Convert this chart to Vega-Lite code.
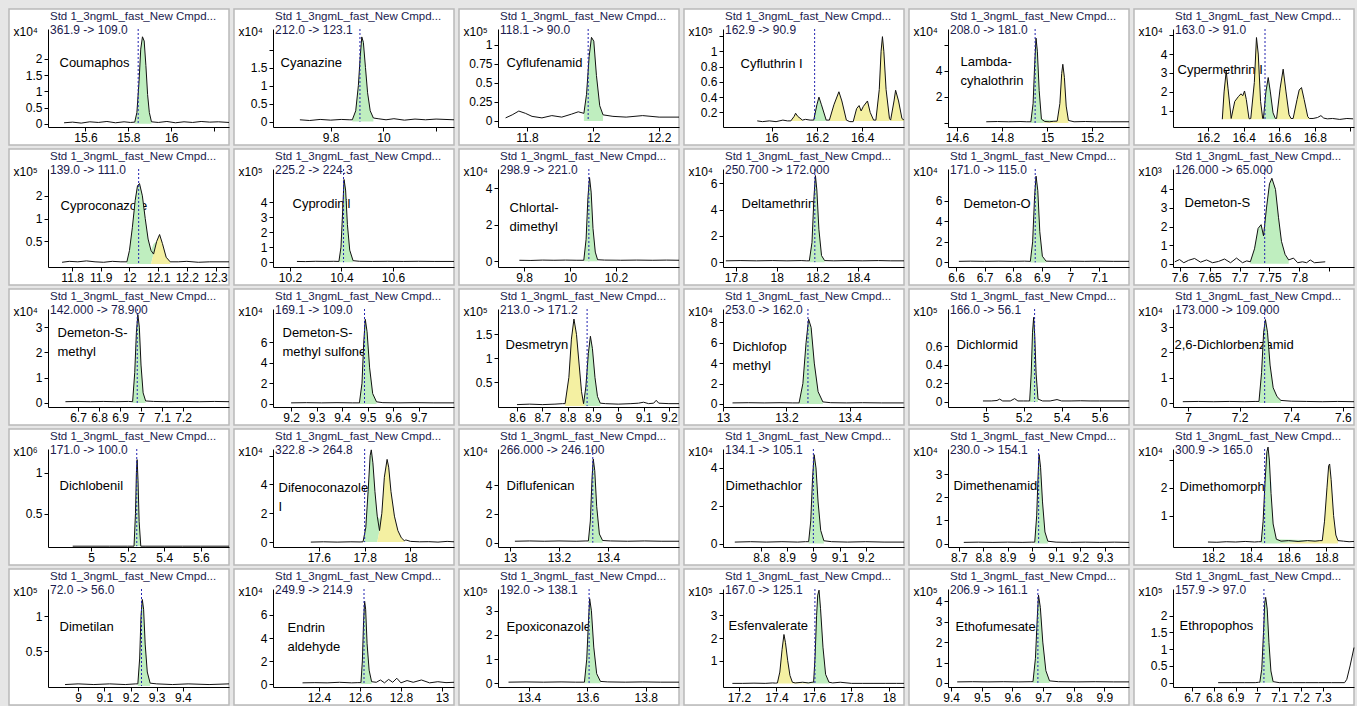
{
"$schema":"https://vega.github.io/schema/vega-lite/v6.json",
"background":"#e6e6e6",
"padding":{"left":8,"top":8,"right":0,"bottom":0},
"columns":6,
"bounds":"flush",
"spacing":{"row":4,"column":5},
"datasets":{
"tr":[
{"p":1,"t":15.5,"v":0.03},{"p":1,"t":15.54,"v":0.05},{"p":1,"t":15.58,"v":0.02},{"p":1,"t":15.62,"v":0.06},{"p":1,"t":15.66,"v":0.04},{"p":1,"t":15.7,"v":0.07},{"p":1,"t":15.74,"v":0.03},{"p":1,"t":15.78,"v":0.06},{"p":1,"t":15.81,"v":0.04},
{"p":1,"t":15.83,"v":0.05,"k":"g"},{"p":1,"t":15.84,"v":0.35,"k":"g"},{"p":1,"t":15.85,"v":1.3,"k":"g"},{"p":1,"t":15.858,"v":2.3,"k":"g"},{"p":1,"t":15.866,"v":2.68,"k":"g"},{"p":1,"t":15.874,"v":2.55,"k":"g"},{"p":1,"t":15.882,"v":1.8,"k":"g"},{"p":1,"t":15.89,"v":0.9,"k":"g"},{"p":1,"t":15.898,"v":0.35,"k":"g"},{"p":1,"t":15.908,"v":0.06,"k":"g"},
{"p":1,"t":15.94,"v":0.04},{"p":1,"t":15.98,"v":0.07},{"p":1,"t":16.02,"v":0.03},{"p":1,"t":16.06,"v":0.06},{"p":1,"t":16.1,"v":0.04},{"p":1,"t":16.14,"v":0.07},{"p":1,"t":16.18,"v":0.05},{"p":1,"t":16.22,"v":0.06},{"p":1,"t":16.27,"v":0.04},

{"p":2,"t":9.683,"v":0.05},{"p":2,"t":9.72,"v":0.03},{"p":2,"t":9.76,"v":0.06},{"p":2,"t":9.8,"v":0.04},{"p":2,"t":9.84,"v":0.06},{"p":2,"t":9.87,"v":0.05},
{"p":2,"t":9.882,"v":0.05,"k":"g"},{"p":2,"t":9.895,"v":0.3,"k":"g"},{"p":2,"t":9.905,"v":1.0,"k":"g"},{"p":2,"t":9.912,"v":1.8,"k":"g"},{"p":2,"t":9.918,"v":2.35,"k":"g"},{"p":2,"t":9.924,"v":2.2,"k":"g"},{"p":2,"t":9.932,"v":1.5,"k":"g"},{"p":2,"t":9.94,"v":0.8,"k":"g"},{"p":2,"t":9.95,"v":0.3,"k":"g"},{"p":2,"t":9.962,"v":0.1,"k":"g"},
{"p":2,"t":9.98,"v":0.08},{"p":2,"t":10.01,"v":0.05},{"p":2,"t":10.04,"v":0.08},{"p":2,"t":10.08,"v":0.04},{"p":2,"t":10.12,"v":0.07},{"p":2,"t":10.16,"v":0.05},{"p":2,"t":10.2,"v":0.07},{"p":2,"t":10.268,"v":0.05},

{"p":3,"t":11.735,"v":0.04},{"p":3,"t":11.755,"v":0.08},{"p":3,"t":11.775,"v":0.13},{"p":3,"t":11.795,"v":0.1},{"p":3,"t":11.815,"v":0.06},{"p":3,"t":11.845,"v":0.04},{"p":3,"t":11.875,"v":0.07},{"p":3,"t":11.905,"v":0.05},{"p":3,"t":11.935,"v":0.09},{"p":3,"t":11.955,"v":0.12},
{"p":3,"t":11.972,"v":0.1,"k":"g"},{"p":3,"t":11.98,"v":0.35,"k":"g"},{"p":3,"t":11.988,"v":0.85,"k":"g"},{"p":3,"t":11.995,"v":1.1,"k":"g"},{"p":3,"t":12.002,"v":1.05,"k":"g"},{"p":3,"t":12.01,"v":0.6,"k":"g"},{"p":3,"t":12.02,"v":0.2,"k":"g"},{"p":3,"t":12.03,"v":0.08,"k":"g"},
{"p":3,"t":12.06,"v":0.06},{"p":3,"t":12.1,"v":0.05},{"p":3,"t":12.15,"v":0.07},{"p":3,"t":12.2,"v":0.05},{"p":3,"t":12.26,"v":0.05},

{"p":4,"t":15.937,"v":0.09},{"p":4,"t":15.96,"v":0.08},{"p":4,"t":15.99,"v":0.09},{"p":4,"t":16.02,"v":0.08},{"p":4,"t":16.05,"v":0.1},{"p":4,"t":16.07,"v":0.09},
{"p":4,"t":16.085,"v":0.09,"k":"y1"},{"p":4,"t":16.1,"v":0.15,"k":"y1"},{"p":4,"t":16.106,"v":0.19,"k":"y1"},{"p":4,"t":16.115,"v":0.15,"k":"y1"},{"p":4,"t":16.136,"v":0.1,"k":"y1"},
{"p":4,"t":16.15,"v":0.11},{"p":4,"t":16.17,"v":0.1},
{"p":4,"t":16.186,"v":0.1,"k":"g"},{"p":4,"t":16.2,"v":0.3,"k":"g"},{"p":4,"t":16.209,"v":0.4,"k":"g"},{"p":4,"t":16.22,"v":0.3,"k":"g"},{"p":4,"t":16.241,"v":0.1,"k":"g"},
{"p":4,"t":16.255,"v":0.1,"k":"y2"},{"p":4,"t":16.275,"v":0.3,"k":"y2"},{"p":4,"t":16.297,"v":0.47,"k":"y2"},{"p":4,"t":16.31,"v":0.35,"k":"y2"},{"p":4,"t":16.33,"v":0.1,"k":"y2"},
{"p":4,"t":16.345,"v":0.08},
{"p":4,"t":16.36,"v":0.08,"k":"y3"},{"p":4,"t":16.375,"v":0.25,"k":"y3"},{"p":4,"t":16.386,"v":0.29,"k":"y3"},{"p":4,"t":16.395,"v":0.22,"k":"y3"},{"p":4,"t":16.405,"v":0.28,"k":"y3"},{"p":4,"t":16.423,"v":0.35,"k":"y3"},{"p":4,"t":16.435,"v":0.2,"k":"y3"},{"p":4,"t":16.45,"v":0.1,"k":"y3"},
{"p":4,"t":16.46,"v":0.1,"k":"y4"},{"p":4,"t":16.475,"v":0.5,"k":"y4"},{"p":4,"t":16.483,"v":1.0,"k":"y4"},{"p":4,"t":16.489,"v":1.19,"k":"y4"},{"p":4,"t":16.495,"v":1.0,"k":"y4"},{"p":4,"t":16.505,"v":0.5,"k":"y4"},{"p":4,"t":16.52,"v":0.12,"k":"y4"},
{"p":4,"t":16.525,"v":0.1,"k":"y5"},{"p":4,"t":16.54,"v":0.35,"k":"y5"},{"p":4,"t":16.547,"v":0.49,"k":"y5"},{"p":4,"t":16.56,"v":0.35,"k":"y5"},{"p":4,"t":16.575,"v":0.12,"k":"y5"},{"p":4,"t":16.584,"v":0.1,"k":"y5"},

{"p":5,"t":14.73,"v":0.1},{"p":5,"t":14.78,"v":0.12},{"p":5,"t":14.83,"v":0.1},{"p":5,"t":14.88,"v":0.12},{"p":5,"t":14.91,"v":0.1},
{"p":5,"t":14.928,"v":0.1,"k":"g"},{"p":5,"t":14.938,"v":1.5,"k":"g"},{"p":5,"t":14.945,"v":4.5,"k":"g"},{"p":5,"t":14.951,"v":6.5,"k":"g"},{"p":5,"t":14.957,"v":5.5,"k":"g"},{"p":5,"t":14.965,"v":2.5,"k":"g"},{"p":5,"t":14.975,"v":0.3,"k":"g"},
{"p":5,"t":14.99,"v":0.12},{"p":5,"t":15.01,"v":0.1},{"p":5,"t":15.03,"v":0.14},
{"p":5,"t":15.045,"v":0.15,"k":"y1"},{"p":5,"t":15.057,"v":1.5,"k":"y1"},{"p":5,"t":15.065,"v":3.8,"k":"y1"},{"p":5,"t":15.07,"v":4.5,"k":"y1"},{"p":5,"t":15.077,"v":3.5,"k":"y1"},{"p":5,"t":15.085,"v":1.3,"k":"y1"},{"p":5,"t":15.095,"v":0.2,"k":"y1"},
{"p":5,"t":15.12,"v":0.1},{"p":5,"t":15.17,"v":0.12},{"p":5,"t":15.22,"v":0.1},{"p":5,"t":15.28,"v":0.1},{"p":5,"t":15.364,"v":0.1},

{"p":6,"t":16.28,"v":0.56,"k":"y1"},{"p":6,"t":16.29,"v":2.0,"k":"y1"},{"p":6,"t":16.302,"v":3.1,"k":"y1"},{"p":6,"t":16.312,"v":2.2,"k":"y1"},{"p":6,"t":16.33,"v":0.6,"k":"y1"},
{"p":6,"t":16.33,"v":0.6,"k":"y2"},{"p":6,"t":16.35,"v":1.5,"k":"y2"},{"p":6,"t":16.37,"v":1.75,"k":"y2"},{"p":6,"t":16.385,"v":1.9,"k":"y2"},{"p":6,"t":16.395,"v":1.8,"k":"y2"},{"p":6,"t":16.405,"v":2.05,"k":"y2"},{"p":6,"t":16.415,"v":1.6,"k":"y2"},{"p":6,"t":16.43,"v":0.6,"k":"y2"},
{"p":6,"t":16.435,"v":0.58},
{"p":6,"t":16.44,"v":0.6,"k":"y3"},{"p":6,"t":16.46,"v":2.5,"k":"y3"},{"p":6,"t":16.472,"v":4.87,"k":"y3"},{"p":6,"t":16.482,"v":4.0,"k":"y3"},{"p":6,"t":16.495,"v":1.5,"k":"y3"},{"p":6,"t":16.507,"v":0.6,"k":"y3"},
{"p":6,"t":16.511,"v":0.6,"k":"g"},{"p":6,"t":16.525,"v":2.0,"k":"g"},{"p":6,"t":16.538,"v":2.76,"k":"g"},{"p":6,"t":16.55,"v":2.0,"k":"g"},{"p":6,"t":16.565,"v":0.9,"k":"g"},{"p":6,"t":16.578,"v":0.6,"k":"g"},
{"p":6,"t":16.585,"v":0.6,"k":"y4"},{"p":6,"t":16.605,"v":2.2,"k":"y4"},{"p":6,"t":16.622,"v":3.2,"k":"y4"},{"p":6,"t":16.638,"v":2.0,"k":"y4"},{"p":6,"t":16.655,"v":0.8,"k":"y4"},{"p":6,"t":16.666,"v":0.6,"k":"y4"},
{"p":6,"t":16.678,"v":0.6,"k":"y5"},{"p":6,"t":16.7,"v":1.6,"k":"y5"},{"p":6,"t":16.712,"v":2.1,"k":"y5"},{"p":6,"t":16.725,"v":2.23,"k":"y5"},{"p":6,"t":16.74,"v":1.6,"k":"y5"},{"p":6,"t":16.76,"v":0.7,"k":"y5"},{"p":6,"t":16.769,"v":0.6,"k":"y5"},
{"p":6,"t":16.79,"v":0.6},{"p":6,"t":16.815,"v":0.65},{"p":6,"t":16.834,"v":0.75},{"p":6,"t":16.85,"v":0.62},{"p":6,"t":16.87,"v":0.58},{"p":6,"t":16.9,"v":0.6},{"p":6,"t":16.94,"v":0.55},{"p":6,"t":16.98,"v":0.6},{"p":6,"t":17.015,"v":0.58},

{"p":7,"t":11.765,"v":0.04},{"p":7,"t":11.79,"v":0.06},{"p":7,"t":11.82,"v":0.05},{"p":7,"t":11.85,"v":0.07},{"p":7,"t":11.88,"v":0.05},{"p":7,"t":11.91,"v":0.04},{"p":7,"t":11.94,"v":0.06},{"p":7,"t":11.97,"v":0.05},
{"p":7,"t":11.991,"v":0.05,"k":"g"},{"p":7,"t":12.0,"v":0.3,"k":"g"},{"p":7,"t":12.01,"v":0.8,"k":"g"},{"p":7,"t":12.02,"v":1.4,"k":"g"},{"p":7,"t":12.028,"v":1.72,"k":"g"},{"p":7,"t":12.035,"v":1.77,"k":"g"},{"p":7,"t":12.045,"v":1.5,"k":"g"},{"p":7,"t":12.055,"v":1.0,"k":"g"},{"p":7,"t":12.065,"v":0.55,"k":"g"},{"p":7,"t":12.075,"v":0.3,"k":"g"},{"p":7,"t":12.084,"v":0.22,"k":"g"},
{"p":7,"t":12.084,"v":0.22,"k":"y1"},{"p":7,"t":12.095,"v":0.5,"k":"y1"},{"p":7,"t":12.105,"v":0.65,"k":"y1"},{"p":7,"t":12.115,"v":0.45,"k":"y1"},{"p":7,"t":12.128,"v":0.15,"k":"y1"},{"p":7,"t":12.142,"v":0.05,"k":"y1"},
{"p":7,"t":12.17,"v":0.05},{"p":7,"t":12.2,"v":0.06},{"p":7,"t":12.24,"v":0.04},{"p":7,"t":12.28,"v":0.05},{"p":7,"t":12.347,"v":0.05},

{"p":8,"t":10.227,"v":0.05},{"p":8,"t":10.26,"v":0.04},{"p":8,"t":10.3,"v":0.06},{"p":8,"t":10.34,"v":0.05},{"p":8,"t":10.37,"v":0.06},
{"p":8,"t":10.39,"v":0.05,"k":"g"},{"p":8,"t":10.398,"v":1.0,"k":"g"},{"p":8,"t":10.404,"v":3.2,"k":"g"},{"p":8,"t":10.41,"v":5.5,"k":"g"},{"p":8,"t":10.416,"v":4.8,"k":"g"},{"p":8,"t":10.423,"v":2.5,"k":"g"},{"p":8,"t":10.432,"v":0.8,"k":"g"},{"p":8,"t":10.445,"v":0.1,"k":"g"},
{"p":8,"t":10.47,"v":0.06},{"p":8,"t":10.52,"v":0.05},{"p":8,"t":10.58,"v":0.06},{"p":8,"t":10.64,"v":0.05},{"p":8,"t":10.7,"v":0.06},{"p":8,"t":10.76,"v":0.05},{"p":8,"t":10.837,"v":0.05},

{"p":9,"t":9.78,"v":0.05},{"p":9,"t":9.83,"v":0.04},{"p":9,"t":9.88,"v":0.06},{"p":9,"t":9.93,"v":0.05},{"p":9,"t":9.98,"v":0.06},{"p":9,"t":10.03,"v":0.05},
{"p":9,"t":10.06,"v":0.05,"k":"g"},{"p":9,"t":10.07,"v":1.2,"k":"g"},{"p":9,"t":10.078,"v":3.5,"k":"g"},{"p":9,"t":10.085,"v":4.6,"k":"g"},{"p":9,"t":10.092,"v":3.8,"k":"g"},{"p":9,"t":10.1,"v":1.8,"k":"g"},{"p":9,"t":10.11,"v":0.5,"k":"g"},{"p":9,"t":10.12,"v":0.08,"k":"g"},
{"p":9,"t":10.15,"v":0.06},{"p":9,"t":10.22,"v":0.05},{"p":9,"t":10.29,"v":0.06},{"p":9,"t":10.36,"v":0.05},{"p":9,"t":10.42,"v":0.06},{"p":9,"t":10.474,"v":0.05},

{"p":10,"t":17.75,"v":0.1},{"p":10,"t":17.82,"v":0.12},{"p":10,"t":17.9,"v":0.1},{"p":10,"t":17.98,"v":0.12},{"p":10,"t":18.05,"v":0.1},{"p":10,"t":18.12,"v":0.12},{"p":10,"t":18.145,"v":0.1},
{"p":10,"t":18.16,"v":0.1,"k":"g"},{"p":10,"t":18.173,"v":1.5,"k":"g"},{"p":10,"t":18.183,"v":5,"k":"g"},{"p":10,"t":18.19,"v":6.6,"k":"g"},{"p":10,"t":18.197,"v":5.5,"k":"g"},{"p":10,"t":18.207,"v":2.5,"k":"g"},{"p":10,"t":18.22,"v":0.5,"k":"g"},{"p":10,"t":18.235,"v":0.12,"k":"g"},
{"p":10,"t":18.28,"v":0.1},{"p":10,"t":18.35,"v":0.12},{"p":10,"t":18.42,"v":0.1},{"p":10,"t":18.5,"v":0.12},{"p":10,"t":18.56,"v":0.1},{"p":10,"t":18.625,"v":0.1},

{"p":11,"t":6.61,"v":0.1},{"p":11,"t":6.65,"v":0.12},{"p":11,"t":6.7,"v":0.1},{"p":11,"t":6.75,"v":0.12},{"p":11,"t":6.8,"v":0.1},{"p":11,"t":6.84,"v":0.12},
{"p":11,"t":6.86,"v":0.1,"k":"g"},{"p":11,"t":6.868,"v":2,"k":"g"},{"p":11,"t":6.875,"v":6.5,"k":"g"},{"p":11,"t":6.88,"v":8.4,"k":"g"},{"p":11,"t":6.886,"v":7,"k":"g"},{"p":11,"t":6.893,"v":3,"k":"g"},{"p":11,"t":6.902,"v":0.6,"k":"g"},{"p":11,"t":6.915,"v":0.12,"k":"g"},
{"p":11,"t":6.95,"v":0.1},{"p":11,"t":7.0,"v":0.12},{"p":11,"t":7.05,"v":0.1},{"p":11,"t":7.1,"v":0.12},{"p":11,"t":7.15,"v":0.1},{"p":11,"t":7.205,"v":0.1},

{"p":12,"t":7.592,"v":0.1},{"p":12,"t":7.6,"v":0.22},{"p":12,"t":7.607,"v":0.05},{"p":12,"t":7.615,"v":0.18},{"p":12,"t":7.625,"v":0.28},{"p":12,"t":7.635,"v":0.08},{"p":12,"t":7.645,"v":0.2},{"p":12,"t":7.655,"v":0.05},{"p":12,"t":7.665,"v":0.12},{"p":12,"t":7.675,"v":0.25},{"p":12,"t":7.685,"v":0.05},{"p":12,"t":7.695,"v":0.3},{"p":12,"t":7.705,"v":0.05},{"p":12,"t":7.712,"v":0.15},
{"p":12,"t":7.718,"v":0.1,"k":"g"},{"p":12,"t":7.725,"v":0.8,"k":"g"},{"p":12,"t":7.731,"v":1.9,"k":"g"},{"p":12,"t":7.736,"v":2.1,"k":"g"},{"p":12,"t":7.74,"v":1.5,"k":"g"},{"p":12,"t":7.745,"v":3.0,"k":"g"},{"p":12,"t":7.75,"v":4.3,"k":"g"},{"p":12,"t":7.754,"v":4.6,"k":"g"},{"p":12,"t":7.76,"v":4.0,"k":"g"},{"p":12,"t":7.765,"v":2.5,"k":"g"},{"p":12,"t":7.77,"v":1.2,"k":"g"},{"p":12,"t":7.776,"v":0.5,"k":"g"},{"p":12,"t":7.782,"v":0.2,"k":"g"},
{"p":12,"t":7.79,"v":0.3},{"p":12,"t":7.797,"v":0.05},{"p":12,"t":7.805,"v":0.1},{"p":12,"t":7.812,"v":0.05},{"p":12,"t":7.818,"v":0.2},{"p":12,"t":7.825,"v":0.05},{"p":12,"t":7.843,"v":0.1},

{"p":13,"t":6.64,"v":0.05},{"p":13,"t":6.7,"v":0.06},{"p":13,"t":6.76,"v":0.05},{"p":13,"t":6.82,"v":0.06},{"p":13,"t":6.88,"v":0.05},{"p":13,"t":6.94,"v":0.06},
{"p":13,"t":6.96,"v":0.05,"k":"g"},{"p":13,"t":6.97,"v":1.2,"k":"g"},{"p":13,"t":6.978,"v":2.8,"k":"g"},{"p":13,"t":6.985,"v":3.5,"k":"g"},{"p":13,"t":6.992,"v":3.0,"k":"g"},{"p":13,"t":7.0,"v":1.5,"k":"g"},{"p":13,"t":7.01,"v":0.4,"k":"g"},{"p":13,"t":7.022,"v":0.08,"k":"g"},
{"p":13,"t":7.06,"v":0.06},{"p":13,"t":7.13,"v":0.05},{"p":13,"t":7.2,"v":0.06},{"p":13,"t":7.28,"v":0.05},{"p":13,"t":7.35,"v":0.06},{"p":13,"t":7.419,"v":0.05},

{"p":14,"t":9.2,"v":0.1},{"p":14,"t":9.26,"v":0.12},{"p":14,"t":9.32,"v":0.1},{"p":14,"t":9.38,"v":0.12},{"p":14,"t":9.44,"v":0.1},
{"p":14,"t":9.468,"v":0.1,"k":"g"},{"p":14,"t":9.478,"v":2,"k":"g"},{"p":14,"t":9.485,"v":6,"k":"g"},{"p":14,"t":9.491,"v":8.2,"k":"g"},{"p":14,"t":9.498,"v":7,"k":"g"},{"p":14,"t":9.508,"v":3.5,"k":"g"},{"p":14,"t":9.52,"v":1,"k":"g"},{"p":14,"t":9.535,"v":0.2,"k":"g"},
{"p":14,"t":9.56,"v":0.12},{"p":14,"t":9.62,"v":0.1},{"p":14,"t":9.69,"v":0.12},{"p":14,"t":9.76,"v":0.1},{"p":14,"t":9.839,"v":0.1},

{"p":15,"t":8.6,"v":0.03},{"p":15,"t":8.65,"v":0.04},{"p":15,"t":8.7,"v":0.03},{"p":15,"t":8.75,"v":0.04},{"p":15,"t":8.78,"v":0.05},
{"p":15,"t":8.79,"v":0.05,"k":"y1"},{"p":15,"t":8.805,"v":0.6,"k":"y1"},{"p":15,"t":8.815,"v":1.4,"k":"y1"},{"p":15,"t":8.825,"v":1.82,"k":"y1"},{"p":15,"t":8.835,"v":1.5,"k":"y1"},{"p":15,"t":8.845,"v":0.9,"k":"y1"},{"p":15,"t":8.855,"v":0.3,"k":"y1"},{"p":15,"t":8.863,"v":0.05,"k":"y1"},
{"p":15,"t":8.863,"v":0.05,"k":"g"},{"p":15,"t":8.872,"v":0.4,"k":"g"},{"p":15,"t":8.882,"v":1.1,"k":"g"},{"p":15,"t":8.89,"v":1.46,"k":"g"},{"p":15,"t":8.898,"v":1.2,"k":"g"},{"p":15,"t":8.908,"v":0.6,"k":"g"},{"p":15,"t":8.918,"v":0.2,"k":"g"},{"p":15,"t":8.929,"v":0.06,"k":"g"},
{"p":15,"t":8.95,"v":0.05},{"p":15,"t":9.0,"v":0.04},{"p":15,"t":9.05,"v":0.05},{"p":15,"t":9.08,"v":0.06},{"p":15,"t":9.1,"v":0.08},{"p":15,"t":9.12,"v":0.05},{"p":15,"t":9.14,"v":0.06},{"p":15,"t":9.15,"v":0.12},{"p":15,"t":9.16,"v":0.06},{"p":15,"t":9.2,"v":0.05},{"p":15,"t":9.24,"v":0.05},

{"p":16,"t":13.03,"v":0.1},{"p":16,"t":13.08,"v":0.12},{"p":16,"t":13.13,"v":0.1},{"p":16,"t":13.18,"v":0.12},{"p":16,"t":13.22,"v":0.1},
{"p":16,"t":13.24,"v":0.1,"k":"g"},{"p":16,"t":13.252,"v":2,"k":"g"},{"p":16,"t":13.262,"v":6,"k":"g"},{"p":16,"t":13.27,"v":8.3,"k":"g"},{"p":16,"t":13.278,"v":7.5,"k":"g"},{"p":16,"t":13.288,"v":4,"k":"g"},{"p":16,"t":13.3,"v":1.2,"k":"g"},{"p":16,"t":13.315,"v":0.2,"k":"g"},
{"p":16,"t":13.34,"v":0.12},{"p":16,"t":13.39,"v":0.1},{"p":16,"t":13.44,"v":0.12},{"p":16,"t":13.5,"v":0.1},{"p":16,"t":13.57,"v":0.1},

{"p":17,"t":4.986,"v":0.01},{"p":17,"t":5.03,"v":0.01},{"p":17,"t":5.06,"v":0.015},{"p":17,"t":5.074,"v":0.03},{"p":17,"t":5.09,"v":0.01},{"p":17,"t":5.13,"v":0.01},{"p":17,"t":5.153,"v":0.035},{"p":17,"t":5.17,"v":0.01},{"p":17,"t":5.2,"v":0.01},{"p":17,"t":5.222,"v":0.01},
{"p":17,"t":5.232,"v":0.01,"k":"g"},{"p":17,"t":5.24,"v":0.3,"k":"g"},{"p":17,"t":5.247,"v":0.75,"k":"g"},{"p":17,"t":5.253,"v":0.91,"k":"g"},{"p":17,"t":5.259,"v":0.7,"k":"g"},{"p":17,"t":5.266,"v":0.3,"k":"g"},{"p":17,"t":5.276,"v":0.03,"k":"g"},
{"p":17,"t":5.3,"v":0.01},{"p":17,"t":5.34,"v":0.01},{"p":17,"t":5.376,"v":0.025},{"p":17,"t":5.4,"v":0.01},{"p":17,"t":5.45,"v":0.01},{"p":17,"t":5.5,"v":0.012},{"p":17,"t":5.55,"v":0.01},{"p":17,"t":5.6,"v":0.01},{"p":17,"t":5.65,"v":0.01},{"p":17,"t":5.755,"v":0.01},

{"p":18,"t":6.98,"v":0.05},{"p":18,"t":7.04,"v":0.06},{"p":18,"t":7.1,"v":0.05},{"p":18,"t":7.16,"v":0.06},{"p":18,"t":7.22,"v":0.05},{"p":18,"t":7.26,"v":0.06},
{"p":18,"t":7.275,"v":0.06,"k":"g"},{"p":18,"t":7.285,"v":1.2,"k":"g"},{"p":18,"t":7.293,"v":2.8,"k":"g"},{"p":18,"t":7.3,"v":3.3,"k":"g"},{"p":18,"t":7.308,"v":2.8,"k":"g"},{"p":18,"t":7.318,"v":1.5,"k":"g"},{"p":18,"t":7.33,"v":0.6,"k":"g"},{"p":18,"t":7.345,"v":0.25,"k":"g"},{"p":18,"t":7.36,"v":0.1,"k":"g"},
{"p":18,"t":7.4,"v":0.07},{"p":18,"t":7.46,"v":0.06},{"p":18,"t":7.52,"v":0.05},{"p":18,"t":7.58,"v":0.06},{"p":18,"t":7.643,"v":0.05},

{"p":19,"t":4.9,"v":0.1},{"p":19,"t":5.0,"v":0.1},{"p":19,"t":5.1,"v":0.1},{"p":19,"t":5.2,"v":0.1},
{"p":19,"t":5.235,"v":0.1,"k":"g"},{"p":19,"t":5.243,"v":0.5,"k":"g"},{"p":19,"t":5.248,"v":1.0,"k":"g"},{"p":19,"t":5.252,"v":1.16,"k":"g"},{"p":19,"t":5.257,"v":0.9,"k":"g"},{"p":19,"t":5.263,"v":0.4,"k":"g"},{"p":19,"t":5.272,"v":0.1,"k":"g"},
{"p":19,"t":5.3,"v":0.1},{"p":19,"t":5.4,"v":0.1},{"p":19,"t":5.5,"v":0.1},{"p":19,"t":5.6,"v":0.1},{"p":19,"t":5.754,"v":0.1},

{"p":20,"t":17.565,"v":0.0},{"p":20,"t":17.62,"v":0.02},{"p":20,"t":17.68,"v":0.0},{"p":20,"t":17.74,"v":0.02},{"p":20,"t":17.78,"v":0.01},
{"p":20,"t":17.793,"v":0.02,"k":"g"},{"p":20,"t":17.805,"v":1.0,"k":"g"},{"p":20,"t":17.815,"v":3.5,"k":"g"},{"p":20,"t":17.824,"v":6.0,"k":"g"},{"p":20,"t":17.829,"v":6.4,"k":"g"},{"p":20,"t":17.836,"v":5.5,"k":"g"},{"p":20,"t":17.845,"v":3.5,"k":"g"},{"p":20,"t":17.855,"v":1.8,"k":"g"},{"p":20,"t":17.865,"v":0.8,"k":"g"},
{"p":20,"t":17.865,"v":0.8,"k":"y1"},{"p":20,"t":17.875,"v":2,"k":"y1"},{"p":20,"t":17.886,"v":4.5,"k":"y1"},{"p":20,"t":17.898,"v":5.74,"k":"y1"},{"p":20,"t":17.905,"v":5.2,"k":"y1"},{"p":20,"t":17.915,"v":3.5,"k":"y1"},{"p":20,"t":17.93,"v":1.8,"k":"y1"},{"p":20,"t":17.945,"v":0.8,"k":"y1"},{"p":20,"t":17.96,"v":0.3,"k":"y1"},{"p":20,"t":17.973,"v":0.1,"k":"y1"},
{"p":20,"t":17.98,"v":0.15},{"p":20,"t":18.0,"v":0.05},{"p":20,"t":18.04,"v":0.02},{"p":20,"t":18.08,"v":0.03},{"p":20,"t":18.12,"v":0.0},{"p":20,"t":18.16,"v":0.05},{"p":20,"t":18.19,"v":0.02},

{"p":21,"t":13.02,"v":0.1},{"p":21,"t":13.08,"v":0.12},{"p":21,"t":13.14,"v":0.1},{"p":21,"t":13.2,"v":0.12},{"p":21,"t":13.27,"v":0.1},{"p":21,"t":13.31,"v":0.12},
{"p":21,"t":13.32,"v":0.12,"k":"g"},{"p":21,"t":13.328,"v":1.5,"k":"g"},{"p":21,"t":13.335,"v":4.5,"k":"g"},{"p":21,"t":13.34,"v":5.8,"k":"g"},{"p":21,"t":13.346,"v":5.0,"k":"g"},{"p":21,"t":13.354,"v":2.5,"k":"g"},{"p":21,"t":13.365,"v":0.6,"k":"g"},{"p":21,"t":13.378,"v":0.15,"k":"g"},
{"p":21,"t":13.41,"v":0.12},{"p":21,"t":13.48,"v":0.1},{"p":21,"t":13.55,"v":0.12},{"p":21,"t":13.62,"v":0.1},{"p":21,"t":13.69,"v":0.1},

{"p":22,"t":8.7,"v":0.08},{"p":22,"t":8.76,"v":0.1},{"p":22,"t":8.82,"v":0.08},{"p":22,"t":8.88,"v":0.1},{"p":22,"t":8.94,"v":0.08},{"p":22,"t":8.97,"v":0.1},
{"p":22,"t":8.982,"v":0.1,"k":"g"},{"p":22,"t":8.99,"v":1.2,"k":"g"},{"p":22,"t":8.997,"v":3.5,"k":"g"},{"p":22,"t":9.003,"v":4.7,"k":"g"},{"p":22,"t":9.01,"v":4.0,"k":"g"},{"p":22,"t":9.018,"v":2.2,"k":"g"},{"p":22,"t":9.028,"v":0.7,"k":"g"},{"p":22,"t":9.04,"v":0.15,"k":"g"},
{"p":22,"t":9.07,"v":0.1},{"p":22,"t":9.13,"v":0.08},{"p":22,"t":9.2,"v":0.1},{"p":22,"t":9.27,"v":0.08},{"p":22,"t":9.346,"v":0.08},

{"p":23,"t":8.72,"v":0.05},{"p":23,"t":8.78,"v":0.06},{"p":23,"t":8.84,"v":0.05},{"p":23,"t":8.9,"v":0.06},{"p":23,"t":8.96,"v":0.05},{"p":23,"t":9.0,"v":0.06},
{"p":23,"t":9.012,"v":0.06,"k":"g"},{"p":23,"t":9.02,"v":1.2,"k":"g"},{"p":23,"t":9.026,"v":3.0,"k":"g"},{"p":23,"t":9.03,"v":3.85,"k":"g"},{"p":23,"t":9.036,"v":3.3,"k":"g"},{"p":23,"t":9.044,"v":1.8,"k":"g"},{"p":23,"t":9.054,"v":0.5,"k":"g"},{"p":23,"t":9.066,"v":0.1,"k":"g"},
{"p":23,"t":9.1,"v":0.06},{"p":23,"t":9.16,"v":0.05},{"p":23,"t":9.22,"v":0.06},{"p":23,"t":9.28,"v":0.05},{"p":23,"t":9.34,"v":0.06},{"p":23,"t":9.4,"v":0.05},

{"p":24,"t":18.173,"v":0.05},{"p":24,"t":18.22,"v":0.04},{"p":24,"t":18.27,"v":0.06},{"p":24,"t":18.32,"v":0.05},{"p":24,"t":18.37,"v":0.07},{"p":24,"t":18.42,"v":0.05},{"p":24,"t":18.44,"v":0.06},
{"p":24,"t":18.455,"v":0.06,"k":"g"},{"p":24,"t":18.465,"v":0.8,"k":"g"},{"p":24,"t":18.475,"v":2.2,"k":"g"},{"p":24,"t":18.485,"v":3.3,"k":"g"},{"p":24,"t":18.491,"v":3.47,"k":"g"},{"p":24,"t":18.498,"v":3.0,"k":"g"},{"p":24,"t":18.507,"v":1.8,"k":"g"},{"p":24,"t":18.518,"v":0.7,"k":"g"},{"p":24,"t":18.535,"v":0.15,"k":"g"},
{"p":24,"t":18.56,"v":0.08},{"p":24,"t":18.6,"v":0.1},{"p":24,"t":18.65,"v":0.07},{"p":24,"t":18.7,"v":0.1},{"p":24,"t":18.74,"v":0.08},{"p":24,"t":18.765,"v":0.1},
{"p":24,"t":18.778,"v":0.1,"k":"y1"},{"p":24,"t":18.79,"v":0.8,"k":"y1"},{"p":24,"t":18.803,"v":2.0,"k":"y1"},{"p":24,"t":18.812,"v":2.8,"k":"y1"},{"p":24,"t":18.817,"v":2.86,"k":"y1"},{"p":24,"t":18.825,"v":2.3,"k":"y1"},{"p":24,"t":18.838,"v":1.0,"k":"y1"},{"p":24,"t":18.85,"v":0.3,"k":"y1"},{"p":24,"t":18.861,"v":0.1,"k":"y1"},
{"p":24,"t":18.89,"v":0.08},{"p":24,"t":18.92,"v":0.06},{"p":24,"t":18.946,"v":0.07},

{"p":25,"t":8.95,"v":0.02},{"p":25,"t":9.0,"v":0.03},{"p":25,"t":9.06,"v":0.02},{"p":25,"t":9.12,"v":0.03},{"p":25,"t":9.18,"v":0.02},{"p":25,"t":9.22,"v":0.03},
{"p":25,"t":9.228,"v":0.03,"k":"g"},{"p":25,"t":9.235,"v":0.4,"k":"g"},{"p":25,"t":9.24,"v":1.0,"k":"g"},{"p":25,"t":9.245,"v":1.24,"k":"g"},{"p":25,"t":9.25,"v":1.1,"k":"g"},{"p":25,"t":9.256,"v":0.6,"k":"g"},{"p":25,"t":9.264,"v":0.2,"k":"g"},{"p":25,"t":9.275,"v":0.04,"k":"g"},
{"p":25,"t":9.3,"v":0.03},{"p":25,"t":9.36,"v":0.02},{"p":25,"t":9.42,"v":0.03},{"p":25,"t":9.5,"v":0.02},{"p":25,"t":9.576,"v":0.03},

{"p":26,"t":12.32,"v":0.1},{"p":26,"t":12.38,"v":0.12},{"p":26,"t":12.44,"v":0.1},{"p":26,"t":12.5,"v":0.15},{"p":26,"t":12.56,"v":0.1},{"p":26,"t":12.59,"v":0.12},
{"p":26,"t":12.605,"v":0.12,"k":"g"},{"p":26,"t":12.612,"v":2,"k":"g"},{"p":26,"t":12.618,"v":5.5,"k":"g"},{"p":26,"t":12.623,"v":7.2,"k":"g"},{"p":26,"t":12.628,"v":6.5,"k":"g"},{"p":26,"t":12.635,"v":3.5,"k":"g"},{"p":26,"t":12.645,"v":1.2,"k":"g"},{"p":26,"t":12.657,"v":0.2,"k":"g"},
{"p":26,"t":12.68,"v":0.15},{"p":26,"t":12.7,"v":0.35},{"p":26,"t":12.72,"v":0.1},{"p":26,"t":12.74,"v":0.4},{"p":26,"t":12.76,"v":0.15},{"p":26,"t":12.78,"v":0.5},{"p":26,"t":12.8,"v":0.1},{"p":26,"t":12.83,"v":0.3},{"p":26,"t":12.86,"v":0.15},{"p":26,"t":12.9,"v":0.35},{"p":26,"t":12.94,"v":0.1},{"p":26,"t":12.98,"v":0.2},{"p":26,"t":13.02,"v":0.12},{"p":26,"t":13.059,"v":0.15},

{"p":27,"t":13.33,"v":0.05},{"p":27,"t":13.39,"v":0.06},{"p":27,"t":13.45,"v":0.05},{"p":27,"t":13.51,"v":0.06},{"p":27,"t":13.56,"v":0.05},
{"p":27,"t":13.59,"v":0.05,"k":"g"},{"p":27,"t":13.598,"v":1.0,"k":"g"},{"p":27,"t":13.604,"v":2.6,"k":"g"},{"p":27,"t":13.608,"v":3.5,"k":"g"},{"p":27,"t":13.614,"v":3.0,"k":"g"},{"p":27,"t":13.622,"v":1.5,"k":"g"},{"p":27,"t":13.632,"v":0.4,"k":"g"},{"p":27,"t":13.645,"v":0.08,"k":"g"},
{"p":27,"t":13.67,"v":0.06},{"p":27,"t":13.73,"v":0.05},{"p":27,"t":13.79,"v":0.06},{"p":27,"t":13.85,"v":0.05},{"p":27,"t":13.914,"v":0.05},

{"p":28,"t":17.165,"v":0.0},{"p":28,"t":17.22,"v":0.0},{"p":28,"t":17.28,"v":0.01},{"p":28,"t":17.34,"v":0.0},{"p":28,"t":17.38,"v":0.02},{"p":28,"t":17.395,"v":0.01},
{"p":28,"t":17.405,"v":0.02,"k":"y1"},{"p":28,"t":17.418,"v":0.5,"k":"y1"},{"p":28,"t":17.43,"v":1.5,"k":"y1"},{"p":28,"t":17.44,"v":2.16,"k":"y1"},{"p":28,"t":17.448,"v":1.8,"k":"y1"},{"p":28,"t":17.46,"v":1.0,"k":"y1"},{"p":28,"t":17.472,"v":0.35,"k":"y1"},{"p":28,"t":17.485,"v":0.05,"k":"y1"},
{"p":28,"t":17.5,"v":0.02},{"p":28,"t":17.54,"v":0.05},{"p":28,"t":17.57,"v":0.02},{"p":28,"t":17.59,"v":0.05},
{"p":28,"t":17.598,"v":0.05,"k":"g"},{"p":28,"t":17.606,"v":1.2,"k":"g"},{"p":28,"t":17.614,"v":3.0,"k":"g"},{"p":28,"t":17.62,"v":3.9,"k":"g"},{"p":28,"t":17.627,"v":4.12,"k":"g"},{"p":28,"t":17.635,"v":3.3,"k":"g"},{"p":28,"t":17.648,"v":1.6,"k":"g"},{"p":28,"t":17.662,"v":0.4,"k":"g"},{"p":28,"t":17.68,"v":0.05,"k":"g"},
{"p":28,"t":17.7,"v":0.02},{"p":28,"t":17.74,"v":0.05},{"p":28,"t":17.8,"v":0.0},{"p":28,"t":17.86,"v":0.0},{"p":28,"t":17.92,"v":0.0},{"p":28,"t":17.98,"v":0.0},{"p":28,"t":18.04,"v":0.0},{"p":28,"t":18.08,"v":0.0},

{"p":29,"t":9.42,"v":0.05},{"p":29,"t":9.47,"v":0.06},{"p":29,"t":9.52,"v":0.05},{"p":29,"t":9.57,"v":0.06},{"p":29,"t":9.62,"v":0.05},{"p":29,"t":9.66,"v":0.06},
{"p":29,"t":9.667,"v":0.06,"k":"g"},{"p":29,"t":9.675,"v":1.2,"k":"g"},{"p":29,"t":9.681,"v":3.2,"k":"g"},{"p":29,"t":9.685,"v":4.3,"k":"g"},{"p":29,"t":9.691,"v":3.7,"k":"g"},{"p":29,"t":9.699,"v":2.0,"k":"g"},{"p":29,"t":9.709,"v":0.6,"k":"g"},{"p":29,"t":9.721,"v":0.1,"k":"g"},
{"p":29,"t":9.75,"v":0.06},{"p":29,"t":9.81,"v":0.05},{"p":29,"t":9.87,"v":0.06},{"p":29,"t":9.93,"v":0.05},{"p":29,"t":9.98,"v":0.05},

{"p":30,"t":6.82,"v":0.0},{"p":30,"t":6.88,"v":0.0},{"p":30,"t":6.94,"v":0.0},{"p":30,"t":6.99,"v":0.0},{"p":30,"t":7.005,"v":0.01},
{"p":30,"t":7.011,"v":0.01,"k":"g"},{"p":30,"t":7.02,"v":0.4,"k":"g"},{"p":30,"t":7.028,"v":1.5,"k":"g"},{"p":30,"t":7.034,"v":2.4,"k":"g"},{"p":30,"t":7.038,"v":2.55,"k":"g"},{"p":30,"t":7.045,"v":2.2,"k":"g"},{"p":30,"t":7.053,"v":1.2,"k":"g"},{"p":30,"t":7.062,"v":0.35,"k":"g"},{"p":30,"t":7.072,"v":0.03,"k":"g"},
{"p":30,"t":7.1,"v":0.0},{"p":30,"t":7.16,"v":0.0},{"p":30,"t":7.22,"v":0.0},{"p":30,"t":7.28,"v":0.0},{"p":30,"t":7.34,"v":0.0},{"p":30,"t":7.4,"v":0.0},{"p":30,"t":7.41,"v":0.1},{"p":30,"t":7.425,"v":0.5},{"p":30,"t":7.443,"v":1.05},

{"p":1,"t":15.846,"r":1},{"p":2,"t":9.911,"r":1},{"p":3,"t":11.985,"r":1},{"p":4,"t":16.19,"r":1},{"p":5,"t":14.947,"r":1},{"p":6,"t":16.52,"r":1},
{"p":7,"t":12.032,"r":1},{"p":8,"t":10.408,"r":1},{"p":9,"t":10.082,"r":1},{"p":10,"t":18.187,"r":1},{"p":11,"t":6.877,"r":1},{"p":12,"t":7.742,"r":1},
{"p":13,"t":6.982,"r":1},{"p":14,"t":9.488,"r":1},{"p":15,"t":8.877,"r":1},{"p":16,"t":13.268,"r":1},{"p":17,"t":5.258,"r":1},{"p":18,"t":7.297,"r":1},
{"p":19,"t":5.25,"r":1},{"p":20,"t":17.8,"r":1},{"p":21,"t":13.338,"r":1},{"p":22,"t":9.0,"r":1},{"p":23,"t":9.028,"r":1},{"p":24,"t":18.473,"r":1},
{"p":25,"t":9.242,"r":1},{"p":26,"t":12.62,"r":1},{"p":27,"t":13.606,"r":1},{"p":28,"t":17.605,"r":1},{"p":29,"t":9.683,"r":1},{"p":30,"t":7.03,"r":1}
]
},
"data":{"name":"tr"},
"concat":[
{"title":{"text":"Std 1_3ngmL_fast_New Cmpd...","subtitle":"361.9 -> 109.0"},"width":220,"height":136,
"encoding":{"x":{"field":"t","type":"quantitative","scale":{"domain":[15.425,16.27],"range":[39,220],"nice":false,"zero":false},"axis":{"values":[15.6,15.8,16,16.2],"labelExpr":"datum.value==16.2?'':datum.label","title":"Coumaphos","titleX":50,"titleY":-61}}},
"layer":[{"transform":[{"filter":"datum.p==1&&datum.k"}],"mark":"area","encoding":{"y":{"field":"v","type":"quantitative","scale":{"domain":[-0.1,2.92],"range":[118,20],"nice":false,"zero":false},"axis":{"values":[0,0.5,1,1.5,2],"title":"x10⁴"}},"detail":{"field":"k"},"color":{"condition":{"test":"datum.k=='g'","value":"#bfeebf"},"value":"#f4f0a2"}}},
{"transform":[{"filter":"datum.p==1&&!datum.r"}],"mark":"line","encoding":{"y":{"field":"v","type":"quantitative","scale":{"domain":[-0.1,2.92],"range":[118,20],"nice":false,"zero":false},"axis":{"values":[0,0.5,1,1.5,2],"title":"x10⁴"}}}},
{"transform":[{"filter":"datum.p==1&&datum.r"}],"mark":"rule","encoding":{"y":{"datum":2.92,"type":"quantitative","scale":{"domain":[-0.1,2.92],"range":[118,20],"nice":false,"zero":false},"axis":{"values":[0,0.5,1,1.5,2],"title":"x10⁴"}},"y2":{"datum":0}}}]},

{"title":{"text":"Std 1_3ngmL_fast_New Cmpd...","subtitle":"212.0 -> 123.1"},"width":220,"height":136,
"encoding":{"x":{"field":"t","type":"quantitative","scale":{"domain":[9.581,10.268],"range":[39,220],"nice":false,"zero":false},"axis":{"values":[9.8,10,10.2],"labelExpr":"datum.value==10.2?'':datum.label","title":"Cyanazine","titleX":46,"titleY":-61}}},
"layer":[{"transform":[{"filter":"datum.p==2&&datum.k"}],"mark":"area","encoding":{"y":{"field":"v","type":"quantitative","scale":{"domain":[-0.15,2.57],"range":[118,20],"nice":false,"zero":false},"axis":{"values":[0,0.5,1,1.5,2],"labelExpr":"datum.value==2?'':datum.label","title":"x10⁴"}},"detail":{"field":"k"},"color":{"condition":{"test":"datum.k=='g'","value":"#bfeebf"},"value":"#f4f0a2"}}},
{"transform":[{"filter":"datum.p==2&&!datum.r"}],"mark":"line","encoding":{"y":{"field":"v","type":"quantitative","scale":{"domain":[-0.15,2.57],"range":[118,20],"nice":false,"zero":false},"axis":{"values":[0,0.5,1,1.5,2],"labelExpr":"datum.value==2?'':datum.label","title":"x10⁴"}}}},
{"transform":[{"filter":"datum.p==2&&datum.r"}],"mark":"rule","encoding":{"y":{"datum":2.57,"type":"quantitative","scale":{"domain":[-0.15,2.57],"range":[118,20],"nice":false,"zero":false},"axis":{"values":[0,0.5,1,1.5,2],"labelExpr":"datum.value==2?'':datum.label","title":"x10⁴"}},"y2":{"datum":0}}}]},

{"title":{"text":"Std 1_3ngmL_fast_New Cmpd...","subtitle":"118.1 -> 90.0"},"width":220,"height":136,
"encoding":{"x":{"field":"t","type":"quantitative","scale":{"domain":[11.712,12.26],"range":[39,220],"nice":false,"zero":false},"axis":{"values":[11.8,12,12.2],"title":"Cyflufenamid","titleX":47,"titleY":-61}}},
"layer":[{"transform":[{"filter":"datum.p==3&&datum.k"}],"mark":"area","encoding":{"y":{"field":"v","type":"quantitative","scale":{"domain":[-0.08,1.21],"range":[118,20],"nice":false,"zero":false},"axis":{"values":[0,0.25,0.5,0.75,1],"title":"x10⁵"}},"detail":{"field":"k"},"color":{"condition":{"test":"datum.k=='g'","value":"#bfeebf"},"value":"#f4f0a2"}}},
{"transform":[{"filter":"datum.p==3&&!datum.r"}],"mark":"line","encoding":{"y":{"field":"v","type":"quantitative","scale":{"domain":[-0.08,1.21],"range":[118,20],"nice":false,"zero":false},"axis":{"values":[0,0.25,0.5,0.75,1],"title":"x10⁵"}}}},
{"transform":[{"filter":"datum.p==3&&datum.r"}],"mark":"rule","encoding":{"y":{"datum":1.21,"type":"quantitative","scale":{"domain":[-0.08,1.21],"range":[118,20],"nice":false,"zero":false},"axis":{"values":[0,0.25,0.5,0.75,1],"title":"x10⁵"}},"y2":{"datum":0}}}]},

{"title":{"text":"Std 1_3ngmL_fast_New Cmpd...","subtitle":"162.9 -> 90.9"},"width":220,"height":136,
"encoding":{"x":{"field":"t","type":"quantitative","scale":{"domain":[15.786,16.584],"range":[39,220],"nice":false,"zero":false},"axis":{"values":[16,16.2,16.4],"title":"Cyfluthrin I","titleX":56,"titleY":-60}}},
"layer":[{"transform":[{"filter":"datum.p==4&&datum.k"}],"mark":"area","encoding":{"y":{"field":"v","type":"quantitative","scale":{"domain":[0.01,1.29],"range":[118,20],"nice":false,"zero":false},"axis":{"values":[0.2,0.4,0.6,0.8,1,1.2],"labelExpr":"datum.value==1.2?'':datum.label","title":"x10⁵"}},"y2":{"datum":0.09},"detail":{"field":"k"},"color":{"condition":{"test":"datum.k=='g'","value":"#bfeebf"},"value":"#f4f0a2"}}},
{"transform":[{"filter":"datum.p==4&&!datum.r"}],"mark":"line","encoding":{"y":{"field":"v","type":"quantitative","scale":{"domain":[0.01,1.29],"range":[118,20],"nice":false,"zero":false},"axis":{"values":[0.2,0.4,0.6,0.8,1,1.2],"labelExpr":"datum.value==1.2?'':datum.label","title":"x10⁵"}}}},
{"transform":[{"filter":"datum.p==4&&datum.r"}],"mark":"rule","encoding":{"y":{"datum":1.29,"type":"quantitative","scale":{"domain":[0.01,1.29],"range":[118,20],"nice":false,"zero":false},"axis":{"values":[0.2,0.4,0.6,0.8,1,1.2],"labelExpr":"datum.value==1.2?'':datum.label","title":"x10⁵"}},"y2":{"datum":0.09}}}]},

{"title":{"text":"Std 1_3ngmL_fast_New Cmpd...","subtitle":"208.0 -> 181.0"},"width":220,"height":136,
"encoding":{"x":{"field":"t","type":"quantitative","scale":{"domain":[14.56,15.364],"range":[39,220],"nice":false,"zero":false},"axis":{"values":[14.6,14.8,15,15.2],"title":["Lambda-","cyhalothrin"],"titleX":51,"titleY":-62}}},
"layer":[{"transform":[{"filter":"datum.p==5&&datum.k"}],"mark":"area","encoding":{"y":{"field":"v","type":"quantitative","scale":{"domain":[-0.3,7.2],"range":[118,20],"nice":false,"zero":false},"axis":{"values":[0,2,4,6],"labelExpr":"datum.value==0||datum.value==6?'':datum.label","title":"x10⁴"}},"detail":{"field":"k"},"color":{"condition":{"test":"datum.k=='g'","value":"#bfeebf"},"value":"#f4f0a2"}}},
{"transform":[{"filter":"datum.p==5&&!datum.r"}],"mark":"line","encoding":{"y":{"field":"v","type":"quantitative","scale":{"domain":[-0.3,7.2],"range":[118,20],"nice":false,"zero":false},"axis":{"values":[0,2,4,6],"labelExpr":"datum.value==0||datum.value==6?'':datum.label","title":"x10⁴"}}}},
{"transform":[{"filter":"datum.p==5&&datum.r"}],"mark":"rule","encoding":{"y":{"datum":7.2,"type":"quantitative","scale":{"domain":[-0.3,7.2],"range":[118,20],"nice":false,"zero":false},"axis":{"values":[0,2,4,6],"labelExpr":"datum.value==0||datum.value==6?'':datum.label","title":"x10⁴"}},"y2":{"datum":0}}}]},

{"title":{"text":"Std 1_3ngmL_fast_New Cmpd...","subtitle":"163.0 -> 91.0"},"width":220,"height":136,
"encoding":{"x":{"field":"t","type":"quantitative","scale":{"domain":[16.003,17.02],"range":[39,220],"nice":false,"zero":false},"axis":{"values":[16.2,16.4,16.6,16.8,17],"labelExpr":"datum.value==17?'':datum.label","title":"Cypermethrin I","titleX":43,"titleY":-54}}},
"layer":[{"transform":[{"filter":"datum.p==6&&datum.k"}],"mark":"area","encoding":{"y":{"field":"v","type":"quantitative","scale":{"domain":[0.15,5.32],"range":[118,20],"nice":false,"zero":false},"axis":{"values":[1,2,3,4,5],"labelExpr":"datum.value==5?'':datum.label","title":"x10⁴"}},"y2":{"datum":0.56},"detail":{"field":"k"},"color":{"condition":{"test":"datum.k=='g'","value":"#bfeebf"},"value":"#f4f0a2"}}},
{"transform":[{"filter":"datum.p==6&&!datum.r"}],"mark":"line","encoding":{"y":{"field":"v","type":"quantitative","scale":{"domain":[0.15,5.32],"range":[118,20],"nice":false,"zero":false},"axis":{"values":[1,2,3,4,5],"labelExpr":"datum.value==5?'':datum.label","title":"x10⁴"}}}},
{"transform":[{"filter":"datum.p==6&&datum.r"}],"mark":"rule","encoding":{"y":{"datum":5.32,"type":"quantitative","scale":{"domain":[0.15,5.32],"range":[118,20],"nice":false,"zero":false},"axis":{"values":[1,2,3,4,5],"labelExpr":"datum.value==5?'':datum.label","title":"x10⁴"}},"y2":{"datum":0.56}}}]},

{"title":{"text":"Std 1_3ngmL_fast_New Cmpd...","subtitle":"139.0 -> 111.0"},"width":220,"height":136,
"encoding":{"x":{"field":"t","type":"quantitative","scale":{"domain":[11.716,12.347],"range":[39,220],"nice":false,"zero":false},"axis":{"values":[11.8,11.9,12,12.1,12.2,12.3],"title":"Cyproconazole","titleX":51,"titleY":-58}}},
"layer":[{"transform":[{"filter":"datum.p==7&&datum.k"}],"mark":"area","encoding":{"y":{"field":"v","type":"quantitative","scale":{"domain":[-0.064,2.09],"range":[118,20],"nice":false,"zero":false},"axis":{"values":[0.5,1,1.5],"title":"x10⁵"}},"detail":{"field":"k"},"color":{"condition":{"test":"datum.k=='g'","value":"#bfeebf"},"value":"#f4f0a2"}}},
{"transform":[{"filter":"datum.p==7&&!datum.r"}],"mark":"line","encoding":{"y":{"field":"v","type":"quantitative","scale":{"domain":[-0.064,2.09],"range":[118,20],"nice":false,"zero":false},"axis":{"values":[0.5,1,1.5],"title":"x10⁵"}}}},
{"transform":[{"filter":"datum.p==7&&datum.r"}],"mark":"rule","encoding":{"y":{"datum":2.09,"type":"quantitative","scale":{"domain":[-0.064,2.09],"range":[118,20],"nice":false,"zero":false},"axis":{"values":[0.5,1,1.5],"title":"x10⁵"}},"y2":{"datum":0}}}]},

{"title":{"text":"Std 1_3ngmL_fast_New Cmpd...","subtitle":"225.2 -> 224.3"},"width":220,"height":136,
"encoding":{"x":{"field":"t","type":"quantitative","scale":{"domain":[10.134,10.837],"range":[39,220],"nice":false,"zero":false},"axis":{"values":[10.2,10.4,10.6],"title":"Cyprodinil","titleX":58,"titleY":-60}}},
"layer":[{"transform":[{"filter":"datum.p==8&&datum.k"}],"mark":"area","encoding":{"y":{"field":"v","type":"quantitative","scale":{"domain":[-0.32,6.2],"range":[118,20],"nice":false,"zero":false},"axis":{"values":[0,1,2,3,4],"title":"x10⁵"}},"detail":{"field":"k"},"color":{"condition":{"test":"datum.k=='g'","value":"#bfeebf"},"value":"#f4f0a2"}}},
{"transform":[{"filter":"datum.p==8&&!datum.r"}],"mark":"line","encoding":{"y":{"field":"v","type":"quantitative","scale":{"domain":[-0.32,6.2],"range":[118,20],"nice":false,"zero":false},"axis":{"values":[0,1,2,3,4],"title":"x10⁵"}}}},
{"transform":[{"filter":"datum.p==8&&datum.r"}],"mark":"rule","encoding":{"y":{"datum":6.2,"type":"quantitative","scale":{"domain":[-0.32,6.2],"range":[118,20],"nice":false,"zero":false},"axis":{"values":[0,1,2,3,4],"title":"x10⁵"}},"y2":{"datum":0}}}]},

{"title":{"text":"Std 1_3ngmL_fast_New Cmpd...","subtitle":"298.9 -> 221.0"},"width":220,"height":136,
"encoding":{"x":{"field":"t","type":"quantitative","scale":{"domain":[9.687,10.474],"range":[39,220],"nice":false,"zero":false},"axis":{"values":[9.8,10,10.2],"title":["Chlortal-","dimethyl"],"titleX":50,"titleY":-56}}},
"layer":[{"transform":[{"filter":"datum.p==9&&datum.k"}],"mark":"area","encoding":{"y":{"field":"v","type":"quantitative","scale":{"domain":[-0.32,5.07],"range":[118,20],"nice":false,"zero":false},"axis":{"values":[0,2,4],"title":"x10⁴"}},"detail":{"field":"k"},"color":{"condition":{"test":"datum.k=='g'","value":"#bfeebf"},"value":"#f4f0a2"}}},
{"transform":[{"filter":"datum.p==9&&!datum.r"}],"mark":"line","encoding":{"y":{"field":"v","type":"quantitative","scale":{"domain":[-0.32,5.07],"range":[118,20],"nice":false,"zero":false},"axis":{"values":[0,2,4],"title":"x10⁴"}}}},
{"transform":[{"filter":"datum.p==9&&datum.r"}],"mark":"rule","encoding":{"y":{"datum":5.07,"type":"quantitative","scale":{"domain":[-0.32,5.07],"range":[118,20],"nice":false,"zero":false},"axis":{"values":[0,2,4],"title":"x10⁴"}},"y2":{"datum":0}}}]},

{"title":{"text":"Std 1_3ngmL_fast_New Cmpd...","subtitle":"250.700 -> 172.000"},"width":220,"height":136,
"encoding":{"x":{"field":"t","type":"quantitative","scale":{"domain":[17.736,18.625],"range":[39,220],"nice":false,"zero":false},"axis":{"values":[17.8,18,18.2,18.4],"title":"Deltamethrin","titleX":57,"titleY":-60}}},
"layer":[{"transform":[{"filter":"datum.p==10&&datum.k"}],"mark":"area","encoding":{"y":{"field":"v","type":"quantitative","scale":{"domain":[-0.37,7.1],"range":[118,20],"nice":false,"zero":false},"axis":{"values":[0,2,4,6],"title":"x10⁴"}},"detail":{"field":"k"},"color":{"condition":{"test":"datum.k=='g'","value":"#bfeebf"},"value":"#f4f0a2"}}},
{"transform":[{"filter":"datum.p==10&&!datum.r"}],"mark":"line","encoding":{"y":{"field":"v","type":"quantitative","scale":{"domain":[-0.37,7.1],"range":[118,20],"nice":false,"zero":false},"axis":{"values":[0,2,4,6],"title":"x10⁴"}}}},
{"transform":[{"filter":"datum.p==10&&datum.r"}],"mark":"rule","encoding":{"y":{"datum":7.1,"type":"quantitative","scale":{"domain":[-0.37,7.1],"range":[118,20],"nice":false,"zero":false},"axis":{"values":[0,2,4,6],"title":"x10⁴"}},"y2":{"datum":0}}}]},

{"title":{"text":"Std 1_3ngmL_fast_New Cmpd...","subtitle":"171.0 -> 115.0"},"width":220,"height":136,
"encoding":{"x":{"field":"t","type":"quantitative","scale":{"domain":[6.572,7.205],"range":[39,220],"nice":false,"zero":false},"axis":{"values":[6.6,6.7,6.8,6.9,7,7.1],"title":"Demeton-O","titleX":54,"titleY":-60}}},
"layer":[{"transform":[{"filter":"datum.p==11&&datum.k"}],"mark":"area","encoding":{"y":{"field":"v","type":"quantitative","scale":{"domain":[-0.45,9.1],"range":[118,20],"nice":false,"zero":false},"axis":{"values":[0,2,4,6],"title":"x10⁴"}},"detail":{"field":"k"},"color":{"condition":{"test":"datum.k=='g'","value":"#bfeebf"},"value":"#f4f0a2"}}},
{"transform":[{"filter":"datum.p==11&&!datum.r"}],"mark":"line","encoding":{"y":{"field":"v","type":"quantitative","scale":{"domain":[-0.45,9.1],"range":[118,20],"nice":false,"zero":false},"axis":{"values":[0,2,4,6],"title":"x10⁴"}}}},
{"transform":[{"filter":"datum.p==11&&datum.r"}],"mark":"rule","encoding":{"y":{"datum":9.1,"type":"quantitative","scale":{"domain":[-0.45,9.1],"range":[118,20],"nice":false,"zero":false},"axis":{"values":[0,2,4,6],"title":"x10⁴"}},"y2":{"datum":0}}}]},

{"title":{"text":"Std 1_3ngmL_fast_New Cmpd...","subtitle":"126.000 -> 65.000"},"width":220,"height":136,
"encoding":{"x":{"field":"t","type":"quantitative","scale":{"domain":[7.589,7.891],"range":[39,220],"nice":false,"zero":false},"axis":{"values":[7.6,7.65,7.7,7.75,7.8,7.85],"labelExpr":"datum.value==7.85?'':datum.label","title":"Demeton-S","titleX":50,"titleY":-61}}},
"layer":[{"transform":[{"filter":"datum.p==12&&datum.k"}],"mark":"area","encoding":{"y":{"field":"v","type":"quantitative","scale":{"domain":[-0.18,5.1],"range":[118,20],"nice":false,"zero":false},"axis":{"values":[0,1,2,3,4],"title":"x10³"}},"detail":{"field":"k"},"color":{"condition":{"test":"datum.k=='g'","value":"#bfeebf"},"value":"#f4f0a2"}}},
{"transform":[{"filter":"datum.p==12&&!datum.r"}],"mark":"line","encoding":{"y":{"field":"v","type":"quantitative","scale":{"domain":[-0.18,5.1],"range":[118,20],"nice":false,"zero":false},"axis":{"values":[0,1,2,3,4],"title":"x10³"}}}},
{"transform":[{"filter":"datum.p==12&&datum.r"}],"mark":"rule","encoding":{"y":{"datum":5.1,"type":"quantitative","scale":{"domain":[-0.18,5.1],"range":[118,20],"nice":false,"zero":false},"axis":{"values":[0,1,2,3,4],"title":"x10³"}},"y2":{"datum":0}}}]},

{"title":{"text":"Std 1_3ngmL_fast_New Cmpd...","subtitle":"142.000 -> 78.900"},"width":220,"height":136,
"encoding":{"x":{"field":"t","type":"quantitative","scale":{"domain":[6.557,7.419],"range":[39,220],"nice":false,"zero":false},"axis":{"values":[6.7,6.8,6.9,7,7.1,7.2],"title":["Demeton-S-","methyl"],"titleX":48,"titleY":-71}}},
"layer":[{"transform":[{"filter":"datum.p==13&&datum.k"}],"mark":"area","encoding":{"y":{"field":"v","type":"quantitative","scale":{"domain":[-0.16,3.72],"range":[118,20],"nice":false,"zero":false},"axis":{"values":[0,1,2,3],"title":"x10⁴"}},"detail":{"field":"k"},"color":{"condition":{"test":"datum.k=='g'","value":"#bfeebf"},"value":"#f4f0a2"}}},
{"transform":[{"filter":"datum.p==13&&!datum.r"}],"mark":"line","encoding":{"y":{"field":"v","type":"quantitative","scale":{"domain":[-0.16,3.72],"range":[118,20],"nice":false,"zero":false},"axis":{"values":[0,1,2,3],"title":"x10⁴"}}}},
{"transform":[{"filter":"datum.p==13&&datum.r"}],"mark":"rule","encoding":{"y":{"datum":3.72,"type":"quantitative","scale":{"domain":[-0.16,3.72],"range":[118,20],"nice":false,"zero":false},"axis":{"values":[0,1,2,3],"title":"x10⁴"}},"y2":{"datum":0}}}]},

{"title":{"text":"Std 1_3ngmL_fast_New Cmpd...","subtitle":"169.1 -> 109.0"},"width":220,"height":136,
"encoding":{"x":{"field":"t","type":"quantitative","scale":{"domain":[9.129,9.839],"range":[39,220],"nice":false,"zero":false},"axis":{"values":[9.2,9.3,9.4,9.5,9.6,9.7],"title":["Demeton-S-","methyl sulfone"],"titleX":48,"titleY":-71}}},
"layer":[{"transform":[{"filter":"datum.p==14&&datum.k"}],"mark":"area","encoding":{"y":{"field":"v","type":"quantitative","scale":{"domain":[-0.3,9.2],"range":[118,20],"nice":false,"zero":false},"axis":{"values":[0,2,4,6],"title":"x10⁴"}},"detail":{"field":"k"},"color":{"condition":{"test":"datum.k=='g'","value":"#bfeebf"},"value":"#f4f0a2"}}},
{"transform":[{"filter":"datum.p==14&&!datum.r"}],"mark":"line","encoding":{"y":{"field":"v","type":"quantitative","scale":{"domain":[-0.3,9.2],"range":[118,20],"nice":false,"zero":false},"axis":{"values":[0,2,4,6],"title":"x10⁴"}}}},
{"transform":[{"filter":"datum.p==14&&datum.r"}],"mark":"rule","encoding":{"y":{"datum":9.2,"type":"quantitative","scale":{"domain":[-0.3,9.2],"range":[118,20],"nice":false,"zero":false},"axis":{"values":[0,2,4,6],"title":"x10⁴"}},"y2":{"datum":0}}}]},

{"title":{"text":"Std 1_3ngmL_fast_New Cmpd...","subtitle":"213.0 -> 171.2"},"width":220,"height":136,
"encoding":{"x":{"field":"t","type":"quantitative","scale":{"domain":[8.525,9.24],"range":[39,220],"nice":false,"zero":false},"axis":{"values":[8.6,8.7,8.8,8.9,9,9.1,9.2],"title":"Desmetryn","titleX":46,"titleY":-59}}},
"layer":[{"transform":[{"filter":"datum.p==15&&datum.k"}],"mark":"area","encoding":{"y":{"field":"v","type":"quantitative","scale":{"domain":[-0.02,2.03],"range":[118,20],"nice":false,"zero":false},"axis":{"values":[0.5,1,1.5],"title":"x10⁵"}},"detail":{"field":"k"},"color":{"condition":{"test":"datum.k=='g'","value":"#bfeebf"},"value":"#f4f0a2"}}},
{"transform":[{"filter":"datum.p==15&&!datum.r"}],"mark":"line","encoding":{"y":{"field":"v","type":"quantitative","scale":{"domain":[-0.02,2.03],"range":[118,20],"nice":false,"zero":false},"axis":{"values":[0.5,1,1.5],"title":"x10⁵"}}}},
{"transform":[{"filter":"datum.p==15&&datum.r"}],"mark":"rule","encoding":{"y":{"datum":2.03,"type":"quantitative","scale":{"domain":[-0.02,2.03],"range":[118,20],"nice":false,"zero":false},"axis":{"values":[0.5,1,1.5],"title":"x10⁵"}},"y2":{"datum":0}}}]},

{"title":{"text":"Std 1_3ngmL_fast_New Cmpd...","subtitle":"253.0 -> 162.0"},"width":220,"height":136,
"encoding":{"x":{"field":"t","type":"quantitative","scale":{"domain":[13.0,13.571],"range":[39,220],"nice":false,"zero":false},"axis":{"values":[13,13.2,13.4],"title":["Dichlofop","methyl"],"titleX":48,"titleY":-57}}},
"layer":[{"transform":[{"filter":"datum.p==16&&datum.k"}],"mark":"area","encoding":{"y":{"field":"v","type":"quantitative","scale":{"domain":[-0.3,9.3],"range":[118,20],"nice":false,"zero":false},"axis":{"values":[0,2,4,6,8],"title":"x10⁴"}},"detail":{"field":"k"},"color":{"condition":{"test":"datum.k=='g'","value":"#bfeebf"},"value":"#f4f0a2"}}},
{"transform":[{"filter":"datum.p==16&&!datum.r"}],"mark":"line","encoding":{"y":{"field":"v","type":"quantitative","scale":{"domain":[-0.3,9.3],"range":[118,20],"nice":false,"zero":false},"axis":{"values":[0,2,4,6,8],"title":"x10⁴"}}}},
{"transform":[{"filter":"datum.p==16&&datum.r"}],"mark":"rule","encoding":{"y":{"datum":9.3,"type":"quantitative","scale":{"domain":[-0.3,9.3],"range":[118,20],"nice":false,"zero":false},"axis":{"values":[0,2,4,6,8],"title":"x10⁴"}},"y2":{"datum":0}}}]},

{"title":{"text":"Std 1_3ngmL_fast_New Cmpd...","subtitle":"166.0 -> 56.1"},"width":220,"height":136,
"encoding":{"x":{"field":"t","type":"quantitative","scale":{"domain":[4.802,5.755],"range":[39,220],"nice":false,"zero":false},"axis":{"values":[5,5.2,5.4,5.6],"title":"Dichlormid","titleX":47,"titleY":-59}}},
"layer":[{"transform":[{"filter":"datum.p==17&&datum.k"}],"mark":"area","encoding":{"y":{"field":"v","type":"quantitative","scale":{"domain":[-0.055,1.0],"range":[118,20],"nice":false,"zero":false},"axis":{"values":[0,0.2,0.4,0.6],"title":"x10⁵"}},"detail":{"field":"k"},"color":{"condition":{"test":"datum.k=='g'","value":"#bfeebf"},"value":"#f4f0a2"}}},
{"transform":[{"filter":"datum.p==17&&!datum.r"}],"mark":"line","encoding":{"y":{"field":"v","type":"quantitative","scale":{"domain":[-0.055,1.0],"range":[118,20],"nice":false,"zero":false},"axis":{"values":[0,0.2,0.4,0.6],"title":"x10⁵"}}}},
{"transform":[{"filter":"datum.p==17&&datum.r"}],"mark":"rule","encoding":{"y":{"datum":1.0,"type":"quantitative","scale":{"domain":[-0.055,1.0],"range":[118,20],"nice":false,"zero":false},"axis":{"values":[0,0.2,0.4,0.6],"title":"x10⁵"}},"y2":{"datum":0}}}]},

{"title":{"text":"Std 1_3ngmL_fast_New Cmpd...","subtitle":"173.000 -> 109.000"},"width":220,"height":136,
"encoding":{"x":{"field":"t","type":"quantitative","scale":{"domain":[6.942,7.643],"range":[39,220],"nice":false,"zero":false},"axis":{"values":[7,7.2,7.4,7.6],"title":"2,6-Dichlorbenzamid","titleX":40,"titleY":-59}}},
"layer":[{"transform":[{"filter":"datum.p==18&&datum.k"}],"mark":"area","encoding":{"y":{"field":"v","type":"quantitative","scale":{"domain":[-0.16,3.72],"range":[118,20],"nice":false,"zero":false},"axis":{"values":[0,1,2,3],"title":"x10⁴"}},"detail":{"field":"k"},"color":{"condition":{"test":"datum.k=='g'","value":"#bfeebf"},"value":"#f4f0a2"}}},
{"transform":[{"filter":"datum.p==18&&!datum.r"}],"mark":"line","encoding":{"y":{"field":"v","type":"quantitative","scale":{"domain":[-0.16,3.72],"range":[118,20],"nice":false,"zero":false},"axis":{"values":[0,1,2,3],"title":"x10⁴"}}}},
{"transform":[{"filter":"datum.p==18&&datum.r"}],"mark":"rule","encoding":{"y":{"datum":3.72,"type":"quantitative","scale":{"domain":[-0.16,3.72],"range":[118,20],"nice":false,"zero":false},"axis":{"values":[0,1,2,3],"title":"x10⁴"}},"y2":{"datum":0}}}]},

{"title":{"text":"Std 1_3ngmL_fast_New Cmpd...","subtitle":"171.0 -> 100.0"},"width":220,"height":136,
"encoding":{"x":{"field":"t","type":"quantitative","scale":{"domain":[4.765,5.754],"range":[39,220],"nice":false,"zero":false},"axis":{"values":[5,5.2,5.4,5.6],"title":"Dichlobenil","titleX":50,"titleY":-58}}},
"layer":[{"transform":[{"filter":"datum.p==19&&datum.k"}],"mark":"area","encoding":{"y":{"field":"v","type":"quantitative","scale":{"domain":[0.09,1.29],"range":[118,20],"nice":false,"zero":false},"axis":{"values":[0.5,1],"title":"x10⁶"}},"y2":{"datum":0.1},"detail":{"field":"k"},"color":{"condition":{"test":"datum.k=='g'","value":"#bfeebf"},"value":"#f4f0a2"}}},
{"transform":[{"filter":"datum.p==19&&!datum.r"}],"mark":"line","encoding":{"y":{"field":"v","type":"quantitative","scale":{"domain":[0.09,1.29],"range":[118,20],"nice":false,"zero":false},"axis":{"values":[0.5,1],"title":"x10⁶"}}}},
{"transform":[{"filter":"datum.p==19&&datum.r"}],"mark":"rule","encoding":{"y":{"datum":1.29,"type":"quantitative","scale":{"domain":[0.09,1.29],"range":[118,20],"nice":false,"zero":false},"axis":{"values":[0.5,1],"title":"x10⁶"}},"y2":{"datum":0.1}}}]},

{"title":{"text":"Std 1_3ngmL_fast_New Cmpd...","subtitle":"322.8 -> 264.8"},"width":220,"height":136,
"encoding":{"x":{"field":"t","type":"quantitative","scale":{"domain":[17.4,18.19],"range":[39,220],"nice":false,"zero":false},"axis":{"values":[17.6,17.8,18],"title":["Difenoconazole","I"],"titleX":44,"titleY":-56}}},
"layer":[{"transform":[{"filter":"datum.p==20&&datum.k"}],"mark":"area","encoding":{"y":{"field":"v","type":"quantitative","scale":{"domain":[-0.34,6.46],"range":[118,20],"nice":false,"zero":false},"axis":{"values":[0,2,4,6],"labelExpr":"datum.value==6?'':datum.label","title":"x10⁴"}},"detail":{"field":"k"},"color":{"condition":{"test":"datum.k=='g'","value":"#bfeebf"},"value":"#f4f0a2"}}},
{"transform":[{"filter":"datum.p==20&&!datum.r"}],"mark":"line","encoding":{"y":{"field":"v","type":"quantitative","scale":{"domain":[-0.34,6.46],"range":[118,20],"nice":false,"zero":false},"axis":{"values":[0,2,4,6],"labelExpr":"datum.value==6?'':datum.label","title":"x10⁴"}}}},
{"transform":[{"filter":"datum.p==20&&datum.r"}],"mark":"rule","encoding":{"y":{"datum":6.46,"type":"quantitative","scale":{"domain":[-0.34,6.46],"range":[118,20],"nice":false,"zero":false},"axis":{"values":[0,2,4,6],"labelExpr":"datum.value==6?'':datum.label","title":"x10⁴"}},"y2":{"datum":0}}}]},

{"title":{"text":"Std 1_3ngmL_fast_New Cmpd...","subtitle":"266.000 -> 246.100"},"width":220,"height":136,
"encoding":{"x":{"field":"t","type":"quantitative","scale":{"domain":[12.951,13.69],"range":[39,220],"nice":false,"zero":false},"axis":{"values":[13,13.2,13.4],"title":"Diflufenican","titleX":47,"titleY":-58}}},
"layer":[{"transform":[{"filter":"datum.p==21&&datum.k"}],"mark":"area","encoding":{"y":{"field":"v","type":"quantitative","scale":{"domain":[-0.3,6.5],"range":[118,20],"nice":false,"zero":false},"axis":{"values":[0,2,4],"title":"x10⁴"}},"detail":{"field":"k"},"color":{"condition":{"test":"datum.k=='g'","value":"#bfeebf"},"value":"#f4f0a2"}}},
{"transform":[{"filter":"datum.p==21&&!datum.r"}],"mark":"line","encoding":{"y":{"field":"v","type":"quantitative","scale":{"domain":[-0.3,6.5],"range":[118,20],"nice":false,"zero":false},"axis":{"values":[0,2,4],"title":"x10⁴"}}}},
{"transform":[{"filter":"datum.p==21&&datum.r"}],"mark":"rule","encoding":{"y":{"datum":6.5,"type":"quantitative","scale":{"domain":[-0.3,6.5],"range":[118,20],"nice":false,"zero":false},"axis":{"values":[0,2,4],"title":"x10⁴"}},"y2":{"datum":0}}}]},

{"title":{"text":"Std 1_3ngmL_fast_New Cmpd...","subtitle":"134.1 -> 105.1"},"width":220,"height":136,
"encoding":{"x":{"field":"t","type":"quantitative","scale":{"domain":[8.655,9.346],"range":[39,220],"nice":false,"zero":false},"axis":{"values":[8.8,8.9,9,9.1,9.2],"title":"Dimethachlor","titleX":41,"titleY":-58}}},
"layer":[{"transform":[{"filter":"datum.p==22&&datum.k"}],"mark":"area","encoding":{"y":{"field":"v","type":"quantitative","scale":{"domain":[-0.18,5.0],"range":[118,20],"nice":false,"zero":false},"axis":{"values":[0,2,4],"title":"x10⁴"}},"detail":{"field":"k"},"color":{"condition":{"test":"datum.k=='g'","value":"#bfeebf"},"value":"#f4f0a2"}}},
{"transform":[{"filter":"datum.p==22&&!datum.r"}],"mark":"line","encoding":{"y":{"field":"v","type":"quantitative","scale":{"domain":[-0.18,5.0],"range":[118,20],"nice":false,"zero":false},"axis":{"values":[0,2,4],"title":"x10⁴"}}}},
{"transform":[{"filter":"datum.p==22&&datum.r"}],"mark":"rule","encoding":{"y":{"datum":5.0,"type":"quantitative","scale":{"domain":[-0.18,5.0],"range":[118,20],"nice":false,"zero":false},"axis":{"values":[0,2,4],"title":"x10⁴"}},"y2":{"datum":0}}}]},

{"title":{"text":"Std 1_3ngmL_fast_New Cmpd...","subtitle":"230.0 -> 154.1"},"width":220,"height":136,
"encoding":{"x":{"field":"t","type":"quantitative","scale":{"domain":[8.655,9.4],"range":[39,220],"nice":false,"zero":false},"axis":{"values":[8.7,8.8,8.9,9,9.1,9.2,9.3],"title":"Dimethenamid","titleX":44,"titleY":-58}}},
"layer":[{"transform":[{"filter":"datum.p==23&&datum.k"}],"mark":"area","encoding":{"y":{"field":"v","type":"quantitative","scale":{"domain":[-0.15,4.09],"range":[118,20],"nice":false,"zero":false},"axis":{"values":[0,1,2,3],"title":"x10⁴"}},"detail":{"field":"k"},"color":{"condition":{"test":"datum.k=='g'","value":"#bfeebf"},"value":"#f4f0a2"}}},
{"transform":[{"filter":"datum.p==23&&!datum.r"}],"mark":"line","encoding":{"y":{"field":"v","type":"quantitative","scale":{"domain":[-0.15,4.09],"range":[118,20],"nice":false,"zero":false},"axis":{"values":[0,1,2,3],"title":"x10⁴"}}}},
{"transform":[{"filter":"datum.p==23&&datum.r"}],"mark":"rule","encoding":{"y":{"datum":4.09,"type":"quantitative","scale":{"domain":[-0.15,4.09],"range":[118,20],"nice":false,"zero":false},"axis":{"values":[0,1,2,3],"title":"x10⁴"}},"y2":{"datum":0}}}]},

{"title":{"text":"Std 1_3ngmL_fast_New Cmpd...","subtitle":"300.9 -> 165.0"},"width":220,"height":136,
"encoding":{"x":{"field":"t","type":"quantitative","scale":{"domain":[17.988,18.946],"range":[39,220],"nice":false,"zero":false},"axis":{"values":[18.2,18.4,18.6,18.8],"title":"Dimethomorph I","titleX":45,"titleY":-57}}},
"layer":[{"transform":[{"filter":"datum.p==24&&datum.k"}],"mark":"area","encoding":{"y":{"field":"v","type":"quantitative","scale":{"domain":[-0.13,3.4],"range":[118,20],"nice":false,"zero":false},"axis":{"values":[1,2,3],"labelExpr":"datum.value==3?'':datum.label","title":"x10⁴"}},"detail":{"field":"k"},"color":{"condition":{"test":"datum.k=='g'","value":"#bfeebf"},"value":"#f4f0a2"}}},
{"transform":[{"filter":"datum.p==24&&!datum.r"}],"mark":"line","encoding":{"y":{"field":"v","type":"quantitative","scale":{"domain":[-0.13,3.4],"range":[118,20],"nice":false,"zero":false},"axis":{"values":[1,2,3],"labelExpr":"datum.value==3?'':datum.label","title":"x10⁴"}}}},
{"transform":[{"filter":"datum.p==24&&datum.r"}],"mark":"rule","encoding":{"y":{"datum":3.4,"type":"quantitative","scale":{"domain":[-0.13,3.4],"range":[118,20],"nice":false,"zero":false},"axis":{"values":[1,2,3],"labelExpr":"datum.value==3?'':datum.label","title":"x10⁴"}},"y2":{"datum":0}}}]},

{"title":{"text":"Std 1_3ngmL_fast_New Cmpd...","subtitle":"72.0 -> 56.0"},"width":220,"height":136,
"encoding":{"x":{"field":"t","type":"quantitative","scale":{"domain":[8.885,9.576],"range":[39,220],"nice":false,"zero":false},"axis":{"values":[9,9.1,9.2,9.3,9.4],"title":"Dimetilan","titleX":50,"titleY":-57}}},
"layer":[{"transform":[{"filter":"datum.p==25&&datum.k"}],"mark":"area","encoding":{"y":{"field":"v","type":"quantitative","scale":{"domain":[-0.015,1.39],"range":[118,20],"nice":false,"zero":false},"axis":{"values":[0.5,1],"title":"x10⁵"}},"detail":{"field":"k"},"color":{"condition":{"test":"datum.k=='g'","value":"#bfeebf"},"value":"#f4f0a2"}}},
{"transform":[{"filter":"datum.p==25&&!datum.r"}],"mark":"line","encoding":{"y":{"field":"v","type":"quantitative","scale":{"domain":[-0.015,1.39],"range":[118,20],"nice":false,"zero":false},"axis":{"values":[0.5,1],"title":"x10⁵"}}}},
{"transform":[{"filter":"datum.p==25&&datum.r"}],"mark":"rule","encoding":{"y":{"datum":1.39,"type":"quantitative","scale":{"domain":[-0.015,1.39],"range":[118,20],"nice":false,"zero":false},"axis":{"values":[0.5,1],"title":"x10⁵"}},"y2":{"datum":0}}}]},

{"title":{"text":"Std 1_3ngmL_fast_New Cmpd...","subtitle":"249.9 -> 214.9"},"width":220,"height":136,
"encoding":{"x":{"field":"t","type":"quantitative","scale":{"domain":[12.176,13.059],"range":[39,220],"nice":false,"zero":false},"axis":{"values":[12.4,12.6,12.8,13],"title":["Endrin","aldehyde"],"titleX":53,"titleY":-56}}},
"layer":[{"transform":[{"filter":"datum.p==26&&datum.k"}],"mark":"area","encoding":{"y":{"field":"v","type":"quantitative","scale":{"domain":[-0.26,8.26],"range":[118,20],"nice":false,"zero":false},"axis":{"values":[0,2,4,6],"title":"x10⁴"}},"detail":{"field":"k"},"color":{"condition":{"test":"datum.k=='g'","value":"#bfeebf"},"value":"#f4f0a2"}}},
{"transform":[{"filter":"datum.p==26&&!datum.r"}],"mark":"line","encoding":{"y":{"field":"v","type":"quantitative","scale":{"domain":[-0.26,8.26],"range":[118,20],"nice":false,"zero":false},"axis":{"values":[0,2,4,6],"title":"x10⁴"}}}},
{"transform":[{"filter":"datum.p==26&&datum.r"}],"mark":"rule","encoding":{"y":{"datum":8.26,"type":"quantitative","scale":{"domain":[-0.26,8.26],"range":[118,20],"nice":false,"zero":false},"axis":{"values":[0,2,4,6],"title":"x10⁴"}},"y2":{"datum":0}}}]},

{"title":{"text":"Std 1_3ngmL_fast_New Cmpd...","subtitle":"192.0 -> 138.1"},"width":220,"height":136,
"encoding":{"x":{"field":"t","type":"quantitative","scale":{"domain":[13.294,13.914],"range":[39,220],"nice":false,"zero":false},"axis":{"values":[13.4,13.6,13.8],"title":"Epoxiconazole","titleX":47,"titleY":-57}}},
"layer":[{"transform":[{"filter":"datum.p==27&&datum.k"}],"mark":"area","encoding":{"y":{"field":"v","type":"quantitative","scale":{"domain":[-0.15,3.9],"range":[118,20],"nice":false,"zero":false},"axis":{"values":[0,1,2,3],"title":"x10⁵"}},"detail":{"field":"k"},"color":{"condition":{"test":"datum.k=='g'","value":"#bfeebf"},"value":"#f4f0a2"}}},
{"transform":[{"filter":"datum.p==27&&!datum.r"}],"mark":"line","encoding":{"y":{"field":"v","type":"quantitative","scale":{"domain":[-0.15,3.9],"range":[118,20],"nice":false,"zero":false},"axis":{"values":[0,1,2,3],"title":"x10⁵"}}}},
{"transform":[{"filter":"datum.p==27&&datum.r"}],"mark":"rule","encoding":{"y":{"datum":3.9,"type":"quantitative","scale":{"domain":[-0.15,3.9],"range":[118,20],"nice":false,"zero":false},"axis":{"values":[0,1,2,3],"title":"x10⁵"}},"y2":{"datum":0}}}]},

{"title":{"text":"Std 1_3ngmL_fast_New Cmpd...","subtitle":"167.0 -> 125.1"},"width":220,"height":136,
"encoding":{"x":{"field":"t","type":"quantitative","scale":{"domain":[17.115,18.08],"range":[39,220],"nice":false,"zero":false},"axis":{"values":[17.2,17.4,17.6,17.8,18],"title":"Esfenvalerate","titleX":44,"titleY":-58}}},
"layer":[{"transform":[{"filter":"datum.p==28&&datum.k"}],"mark":"area","encoding":{"y":{"field":"v","type":"quantitative","scale":{"domain":[-0.16,4.17],"range":[118,20],"nice":false,"zero":false},"axis":{"values":[1,2,3,4],"labelExpr":"datum.value==4?'':datum.label","title":"x10⁵"}},"detail":{"field":"k"},"color":{"condition":{"test":"datum.k=='g'","value":"#bfeebf"},"value":"#f4f0a2"}}},
{"transform":[{"filter":"datum.p==28&&!datum.r"}],"mark":"line","encoding":{"y":{"field":"v","type":"quantitative","scale":{"domain":[-0.16,4.17],"range":[118,20],"nice":false,"zero":false},"axis":{"values":[1,2,3,4],"labelExpr":"datum.value==4?'':datum.label","title":"x10⁵"}}}},
{"transform":[{"filter":"datum.p==28&&datum.r"}],"mark":"rule","encoding":{"y":{"datum":4.17,"type":"quantitative","scale":{"domain":[-0.16,4.17],"range":[118,20],"nice":false,"zero":false},"axis":{"values":[1,2,3,4],"labelExpr":"datum.value==4?'':datum.label","title":"x10⁵"}},"y2":{"datum":0}}}]},

{"title":{"text":"Std 1_3ngmL_fast_New Cmpd...","subtitle":"206.9 -> 161.1"},"width":220,"height":136,
"encoding":{"x":{"field":"t","type":"quantitative","scale":{"domain":[9.39,9.98],"range":[39,220],"nice":false,"zero":false},"axis":{"values":[9.4,9.5,9.6,9.7,9.8,9.9],"title":"Ethofumesate","titleX":46,"titleY":-57}}},
"layer":[{"transform":[{"filter":"datum.p==29&&datum.k"}],"mark":"area","encoding":{"y":{"field":"v","type":"quantitative","scale":{"domain":[-0.2,4.6],"range":[118,20],"nice":false,"zero":false},"axis":{"values":[0,1,2,3,4],"title":"x10⁵"}},"detail":{"field":"k"},"color":{"condition":{"test":"datum.k=='g'","value":"#bfeebf"},"value":"#f4f0a2"}}},
{"transform":[{"filter":"datum.p==29&&!datum.r"}],"mark":"line","encoding":{"y":{"field":"v","type":"quantitative","scale":{"domain":[-0.2,4.6],"range":[118,20],"nice":false,"zero":false},"axis":{"values":[0,1,2,3,4],"title":"x10⁵"}}}},
{"transform":[{"filter":"datum.p==29&&datum.r"}],"mark":"rule","encoding":{"y":{"datum":4.6,"type":"quantitative","scale":{"domain":[-0.2,4.6],"range":[118,20],"nice":false,"zero":false},"axis":{"values":[0,1,2,3,4],"title":"x10⁵"}},"y2":{"datum":0}}}]},

{"title":{"text":"Std 1_3ngmL_fast_New Cmpd...","subtitle":"157.9 -> 97.0"},"width":220,"height":136,
"encoding":{"x":{"field":"t","type":"quantitative","scale":{"domain":[6.613,7.443],"range":[39,220],"nice":false,"zero":false},"axis":{"values":[6.7,6.8,6.9,7,7.1,7.2,7.3],"title":"Ethropophos","titleX":45,"titleY":-58}}},
"layer":[{"transform":[{"filter":"datum.p==30&&datum.k"}],"mark":"area","encoding":{"y":{"field":"v","type":"quantitative","scale":{"domain":[-0.13,2.8],"range":[118,20],"nice":false,"zero":false},"axis":{"values":[0,0.5,1,1.5,2],"title":"x10⁵"}},"detail":{"field":"k"},"color":{"condition":{"test":"datum.k=='g'","value":"#bfeebf"},"value":"#f4f0a2"}}},
{"transform":[{"filter":"datum.p==30&&!datum.r"}],"mark":"line","encoding":{"y":{"field":"v","type":"quantitative","scale":{"domain":[-0.13,2.8],"range":[118,20],"nice":false,"zero":false},"axis":{"values":[0,0.5,1,1.5,2],"title":"x10⁵"}}}},
{"transform":[{"filter":"datum.p==30&&datum.r"}],"mark":"rule","encoding":{"y":{"datum":2.8,"type":"quantitative","scale":{"domain":[-0.13,2.8],"range":[118,20],"nice":false,"zero":false},"axis":{"values":[0,0.5,1,1.5,2],"title":"x10⁵"}},"y2":{"datum":0}}}]}
],
"config":{
"font":"Liberation Sans",
"view":{"fill":"#ffffff","stroke":"#b9b9b9","strokeWidth":1.5},
"axis":{"grid":false,"domainColor":"#000000","domainWidth":1,"tickColor":"#000000","tickSize":4,"labelColor":"#000000","labelFont":"Liberation Sans","labelFontSize":12,"labelFlush":false,"labelOverlap":false,"format":"~g","titleFont":"Liberation Sans","titleFontWeight":"normal","titleColor":"#000000","titlePadding":0},
"axisX":{"offset":-18,"labelPadding":1,"titleFontSize":13,"titleAlign":"left","titleBaseline":"alphabetic","titleAnchor":"start","titleLineHeight":19},
"axisY":{"offset":-39,"labelPadding":2,"titleFontSize":12,"titleAngle":0,"titleAlign":"left","titleBaseline":"alphabetic","titleX":-35,"titleY":26},
"title":{"anchor":"start","frame":"group","offset":0,"dx":41,"dy":31,"font":"Liberation Sans","fontSize":11.5,"fontWeight":"normal","color":"#1a1a4e","subtitleFont":"Liberation Sans","subtitleFontSize":12,"subtitleColor":"#1a1a4e","subtitlePadding":3},
"line":{"color":"#111111","strokeWidth":1},
"rule":{"color":"#2222b0","strokeDash":[2,2],"strokeWidth":1},
"area":{"opacity":1}
}
}
